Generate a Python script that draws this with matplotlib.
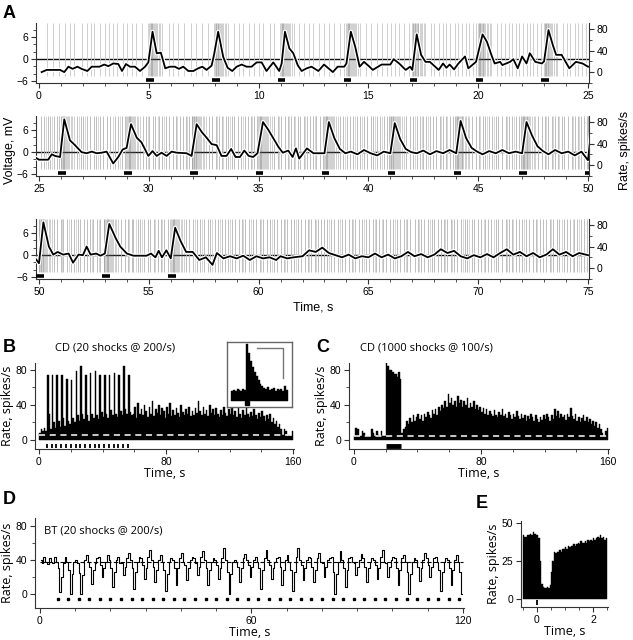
import numpy as np
import matplotlib
matplotlib.use("Agg")
import matplotlib.pyplot as plt
import matplotlib.patheffects as pe
from matplotlib.ticker import MultipleLocator

plt.rcParams['font.family'] = ['Liberation Sans', 'DejaVu Sans']

# ---------------- DATA ----------------
# Panel A: stimulus times (s)
stim_A = [5, 8, 11, 14, 17, 20, 23, 26, 29, 32, 35, 38, 41, 44, 47, 50, 53, 56]
# background spike times (s)
spikes_row1 = [0.35, 0.62, 0.9, 1.18, 1.42, 1.6, 1.95, 2.2, 2.38, 2.52, 2.78, 3.02, 3.2, 3.36, 3.55, 3.82,
               4.0, 4.25, 4.42, 4.7, 5.9, 6.1, 6.35, 6.6, 6.92, 7.15, 7.4, 7.7, 8.9, 9.12, 9.3, 9.55, 9.78,
               10.0, 10.22, 10.5, 10.72, 11.85, 12.05, 12.3, 12.48, 12.75, 12.98, 13.2, 13.45, 13.7, 13.88,
               14.9, 15.1, 15.4, 15.62, 15.85, 16.05, 16.2, 16.4, 16.62, 16.85, 17.85, 18.0, 18.22, 18.4,
               18.55, 18.72, 18.95, 19.1, 19.28, 19.45, 19.6, 19.78, 19.92, 20.85, 21.02, 21.2, 21.38,
               21.52, 21.7, 21.85, 22.05, 22.2, 22.38, 22.5, 22.68, 22.85, 23.85, 24.05, 24.2, 24.4,
               24.55, 24.72, 24.9]
spikes_row2 = [25.08, 25.22, 25.4, 25.5, 25.68, 25.8, 25.93, 26.72, 26.9, 27.02, 27.2, 27.33, 27.5, 27.6,
               27.78, 27.92, 28.1, 28.22, 28.45, 28.6, 28.78, 28.9, 29.72, 29.88, 30.02, 30.18, 30.3,
               30.48, 30.62, 30.8, 30.92, 31.1, 31.22, 31.4, 31.55, 31.68, 31.82, 31.95, 32.72, 32.88,
               33.05, 33.18, 33.32, 33.5, 33.62, 33.78, 33.9, 34.08, 34.2, 34.38, 34.5, 34.65, 34.8,
               34.92, 35.72, 35.9, 36.02, 36.2, 36.32, 36.48, 36.6, 36.78, 36.9, 37.05, 37.2, 37.35,
               37.48, 37.62, 37.8, 37.92, 38.72, 38.85, 39.02, 39.18, 39.3, 39.5, 39.62, 39.8, 39.92,
               40.1, 40.22, 40.4, 40.55, 40.7, 40.85, 40.95, 41.72, 41.9, 42.05, 42.2, 42.35, 42.5,
               42.62, 42.8, 42.95, 43.08, 43.25, 43.4, 43.52, 43.7, 43.85, 43.95, 44.72, 44.88, 45.05,
               45.2, 45.32, 45.5, 45.65, 45.8, 45.92, 46.1, 46.25, 46.4, 46.55, 46.7, 46.85, 46.95,
               47.72, 47.9, 48.05, 48.18, 48.35, 48.5, 48.65, 48.8, 48.92, 49.1, 49.25, 49.4, 49.55,
               49.7, 49.82, 49.95]
spikes_row3 = [50.7, 50.82, 51.0, 51.1, 51.28, 51.45, 51.6, 51.78, 51.85, 52.05, 52.2, 52.3, 52.48, 52.66,
               52.8, 52.95, 53.75, 53.9, 54.05, 54.22, 54.3, 54.5, 54.62, 54.8, 54.95, 55.05, 55.25,
               55.4, 55.55, 55.7, 55.88, 56.7, 56.85, 57.0, 57.2, 57.35, 57.5, 57.68, 57.8, 58.0, 58.15,
               58.32, 58.45, 58.6, 58.8, 58.92, 59.1, 59.25, 59.4, 59.55, 59.75, 59.88, 60.05, 60.2,
               60.36, 60.5, 60.7, 60.82, 61.0, 61.15, 61.3, 61.48, 61.6, 61.8, 61.95, 62.1, 62.25, 62.4,
               62.55, 62.7, 62.85, 63.0, 63.12, 63.3, 63.45, 63.6, 63.8, 63.92, 64.1, 64.25, 64.4, 64.58,
               64.7, 64.9, 65.05, 65.2, 65.35, 65.5, 65.68, 65.8, 66.0, 66.12, 66.3, 66.45, 66.6, 66.78,
               66.9, 67.1, 67.25, 67.4, 67.55, 67.7, 67.88, 68.0, 68.15, 68.3, 68.42, 68.6, 68.75, 68.9,
               69.05, 69.2, 69.38, 69.5, 69.7, 69.82, 70.0, 70.15, 70.32, 70.45, 70.6, 70.8, 70.92, 71.1,
               71.25, 71.4, 71.55, 71.7, 71.85, 72.0, 72.18, 72.3, 72.5, 72.62, 72.8, 72.95, 73.1, 73.25,
               73.4, 73.58, 73.7, 73.9, 74.05, 74.2, 74.35, 74.5, 74.68, 74.8, 74.95]
# extra spikes filling the denser second and third rows
spikes_extra = [25.3, 25.6, 26.8, 27.1, 27.68, 28.35, 28.7, 29.95, 30.4, 30.7, 31.3, 31.75, 33.1, 33.4,
                33.7, 34.28, 34.72, 35.95, 36.4, 36.65, 37.1, 37.55, 38.95, 39.4, 39.7, 40.3, 40.62,
                42.1, 42.42, 42.7, 43.3, 43.6, 45.1, 45.4, 45.72, 46.3, 46.62, 48.1, 48.42, 48.7, 49.3,
                49.6, 51.05, 51.35, 51.7, 52.4, 52.72, 54.1, 54.42, 54.7, 55.3, 55.62, 57.1, 57.42,
                57.9, 58.25, 58.7, 59.3, 59.65, 60.1, 60.6, 61.2, 61.7, 62.3, 62.62, 63.2, 63.7, 64.3,
                64.8, 65.3, 65.6, 66.2, 66.7, 67.3, 67.8, 68.5, 68.82, 69.3, 69.6, 70.25, 70.7, 71.3,
                71.6, 72.1, 72.7, 73.3, 73.8, 74.3, 74.6]
# spike times in the evoked bursts, relative to each stimulus (s)
burst_offsets = [-0.02, 0.02, 0.05, 0.08, 0.1, 0.13, 0.16, 0.2, 0.24, 0.28, 0.33, 0.38, 0.45, 0.52, 0.6]
# firing rate trace (time s, rate spikes/s)
rate_t = [0.12, 0.35, 0.96, 1.15, 1.34, 1.53, 1.75, 1.94, 2.2, 2.4, 2.75, 2.97, 3.16, 3.38, 3.61, 3.78, 3.96,
          4.14, 4.37, 4.6, 4.83, 4.98, 5.17, 5.36, 5.55, 5.75, 5.96, 6.19, 6.37, 6.57, 6.8, 7.03, 7.25, 7.44,
          7.63, 7.86, 7.97, 8.16, 8.39, 8.59, 8.8, 9.0, 9.23, 9.45, 9.68, 9.91, 10.14, 10.36, 10.67, 10.94,
          11.05, 11.2, 11.4, 11.58, 11.78, 11.96, 12.19, 12.41, 12.72, 12.98, 13.38, 13.6, 13.9, 14.0, 14.2,
          14.4, 14.6, 14.8, 15.05, 15.2, 15.6, 16.0, 16.15, 16.4, 16.7, 16.9, 17.0, 17.2, 17.4, 17.6, 17.8,
          18.2, 18.4, 18.55, 18.7, 18.9, 19.1, 19.4, 19.55, 19.9, 20.2, 20.4, 20.6, 20.75, 21.0, 21.1, 21.45,
          21.6, 21.8, 22.0, 22.2, 22.35, 22.6, 22.9, 23.0, 23.2, 23.4, 23.55, 23.8, 24.15, 24.45, 24.75,
          25.0, 25.42, 25.58, 25.73, 25.96, 26.15, 26.41, 26.64, 26.94, 27.17, 27.4, 27.63, 27.85, 28.08,
          28.38, 28.61, 28.81, 28.99, 29.19, 29.45, 29.67, 29.98, 30.17, 30.36, 30.58, 30.81, 31.04, 31.27,
          31.72, 31.95, 32.18, 32.4, 32.63, 32.86, 33.09, 33.31, 33.54, 33.75, 33.95, 34.15, 34.35, 34.55,
          34.75, 34.95, 35.2, 35.45, 35.67, 35.9, 36.1, 36.35, 36.55, 36.7, 36.85, 37.2, 37.5, 37.8, 38.0,
          38.2, 38.45, 38.7, 38.95, 39.2, 39.5, 39.8, 40.1, 40.4, 40.7, 41.0, 41.2, 41.45, 41.7, 41.95,
          42.2, 42.5, 42.8, 43.1, 43.4, 43.7, 44.0, 44.2, 44.45, 44.7, 44.95, 45.2, 45.5, 45.8, 46.1, 46.4,
          46.7, 47.0, 47.2, 47.45, 47.7, 47.95, 48.2, 48.5, 48.8, 49.1, 49.4, 49.7, 50.0,
          50.2, 50.45, 50.65, 50.85, 51.1, 51.35, 51.55, 51.8, 52.0, 52.17, 52.35, 52.6, 52.8, 53.0, 53.2,
          53.5, 53.7, 54.0, 54.3, 54.6, 54.9, 55.1, 55.3, 55.45, 55.6, 55.8, 56.0, 56.2, 56.45, 56.7, 57.0,
          57.3, 57.6, 57.9, 58.1, 58.4, 58.7, 59.0, 59.3, 59.6, 59.9, 60.2, 60.5, 60.8, 61.0, 61.3, 61.6,
          62.0, 62.3, 62.6, 62.9, 63.2, 63.5, 63.8, 64.1, 64.4, 64.7, 65.0, 65.3, 65.6, 65.9, 66.2, 66.5,
          66.8, 67.1, 67.4, 67.7, 68.0, 68.3, 68.6, 68.9, 69.2, 69.5, 69.8, 70.1, 70.4, 70.7, 71.0, 71.3,
          71.6, 71.9, 72.2, 72.5, 72.8, 73.1, 73.4, 73.7, 74.0, 74.3, 74.6, 75.0]
rate_v = [0, 4, 4, 0, 10, 6, 10, 6, 2, 10, 10, 14, 11, 16, 15, 2, 15,
          10, 10, 2, 10, 18, 75, 35, 36, 7, 10, 10, 6, 10, 2, 2, 7, 10,
          4, 12, 32, 75, 28, 8, 2, 10, 14, 10, 10, 18, 18, 2, 18, 2,
          16, 75, 44, 35, 13, 2, 7, 10, 2, 14, 0, 10, 10, 16, 75,
          47, 10, 19, 10, 4, 14, 14, 24, 16, 4, 10, 4, 70, 32, 19, 19,
          4, 16, 8, 14, 5, 16, 29, 7, 19, 70, 56, 32, 16, 19, 13, 19,
          24, 7, 29, 16, 35, 19, 16, 20, 78, 50, 32, 32, 7, 19, 16,
          10, 10, 20, 17, 15, 85, 46, 37, 24, 22, 25, 22, 23, 25,
          3, 15, 29, 32, 76, 51, 42, 17, 26, 17, 23, 17, 25, 23,
          22, 17, 76, 62, 51, 39, 37, 17, 17, 30, 15, 15, 27, 17,
          15, 22, 80, 65, 50, 34, 23, 27, 15, 31, 12, 31, 22, 22, 22,
          80, 50, 30, 22, 25, 20, 28, 22, 18, 25, 22, 78, 48, 30, 24,
          22, 27, 20, 26, 22, 28, 22, 82, 50, 32, 25, 20, 26, 22, 28, 22,
          25, 22, 80, 55, 35, 26, 20, 28, 22, 25, 18, 25, 9,
          85, 40, 25, 30, 25, 27, 10, 25, 24, 40, 25, 27, 23, 27, 82,
          55, 40, 27, 23, 23, 23, 27, 20, 32, 20, 33, 18, 75, 50, 30, 30,
          15, 20, 6, 28, 18, 22, 18, 23, 15, 22, 18, 20, 15, 22, 18, 20,
          22, 33, 30, 38, 28, 24, 20, 25, 18, 22, 20, 27, 20, 25, 18, 22,
          30, 22, 26, 20, 25, 35, 28, 32, 22, 18, 24, 20, 26, 20, 28, 35,
          25, 30, 22, 28, 20, 25, 35, 25, 30, 22, 28, 24]

# Panel B: CD, 20 shocks @ 200/s, 1-s bins 0..159
stim_B = [5, 8, 11, 14, 17, 20, 23, 26, 29, 32, 35, 38, 41, 44, 47, 50, 53, 56]
rate_B = [8, 12, 10, 14, 10, 74, 30, 12, 74, 20, 14, 74, 22, 15, 74, 25, 16, 70, 22, 18,
          69, 25, 20, 79, 28, 22, 85, 30, 24, 74, 28, 22, 76, 30, 25, 79, 28, 24, 74, 32,
          26, 74, 30, 25, 74, 34, 28, 76, 30, 26, 74, 33, 28, 85, 35, 30, 74, 32, 28, 30,
          38, 25, 42, 30, 35, 28, 40, 33, 26, 38, 30, 44, 27, 35, 31, 40, 28, 36, 33, 25,
          38, 30, 42, 27, 34, 29, 37, 31, 26, 40, 32, 28, 35, 30, 38, 27, 33, 29, 36, 31,
          45, 33, 28, 38, 30, 34, 27, 40, 31, 35, 28, 37, 30, 26, 34, 29, 38, 31, 27, 35,
          30, 40, 28, 33, 26, 36, 30, 25, 34, 28, 38, 30, 26, 32, 27, 35, 29, 24, 31, 26,
          33, 27, 22, 28, 24, 30, 20, 25, 18, 22, 15, 18, 12, 6, 12, 10, 4, 6, 4, 10]
# inset: evoked response histogram (relative heights)
inset_hist = [10, 11, 10, 12, 11, 10, 12, 11, 57, 48, 40, 34, 29, 25, 21, 17, 15, 13, 12, 14,
              11, 12, 13, 10, 12, 11, 12, 10, 15, 11]
inset_stim_bin = 8

# Panel C: CD, 1000 shocks @ 100/s, 1-s bins 0..159
stim_C = (20, 30)
rate_C = [4, 14, 12, 4, 4, 10, 8, 4, 4, 4, 4, 12, 8, 4, 10, 6, 4, 10, 4, 4,
          88, 85, 80, 80, 78, 75, 75, 72, 78, 70, 8, 12, 15, 22, 18, 25, 20, 28, 22, 26,
          30, 24, 28, 22, 30, 26, 32, 28, 25, 34, 30, 35, 28, 38, 33, 40, 36, 44, 38, 52,
          42, 48, 40, 45, 38, 50, 42, 46, 38, 44, 40, 48, 36, 42, 38, 44, 35, 40, 34, 38,
          32, 36, 30, 35, 28, 33, 30, 27, 34, 29, 26, 32, 28, 35, 27, 30, 25, 32, 28, 24,
          30, 26, 33, 27, 24, 30, 25, 28, 22, 27, 24, 30, 26, 22, 28, 24, 20, 26, 23, 28,
          24, 30, 26, 22, 28, 24, 35, 27, 33, 25, 30, 26, 28, 23, 30, 26, 36, 27, 24, 30,
          22, 26, 20, 25, 28, 22, 26, 20, 24, 18, 22, 16, 20, 14, 18, 12, 8, 4, 10, 14]

# Panel D: BT, 20 shocks @ 200/s, 0.5-s bins 0..119.5
stim_D = [5, 8, 11, 14, 17, 20, 23, 26, 29, 32, 35, 38, 41, 44, 47, 50, 53, 56, 59, 62,
          65, 68, 71, 74, 77, 80, 83, 86, 89, 92, 95, 98, 101, 104, 107, 110, 113, 116, 119]
bin_D = 0.5
rate_D = [40, 36, 44, 38, 35, 42, 38, 36, 44, 38,
          30, 2, 20, 36, 44, 38,  28, 0, 24, 38, 40, 36,  25, 0, 22, 40, 46, 38,
          32, 12, 28, 36, 42, 44,  34, 20, 30, 38, 46, 40,  30, 8, 26, 40, 44, 36,
          36, 22, 32, 42, 48, 40,  30, 6, 26, 38, 44, 42,  34, 18, 30, 44, 52, 40,
          32, 14, 28, 40, 46, 38,  28, 4, 24, 38, 42, 40,  30, 10, 30, 42, 48, 38,
          34, 16, 30, 40, 44, 42,  36, 22, 32, 44, 50, 40,  30, 10, 28, 38, 42, 40,
          34, 18, 30, 42, 54, 40,  26, 0, 24, 38, 40, 38,  32, 14, 30, 42, 47, 40,
          34, 20, 32, 40, 44, 38,  30, 6, 28, 42, 52, 40,  34, 18, 30, 38, 42, 44,
          32, 10, 28, 40, 46, 38,  28, 4, 26, 44, 54, 40,  34, 16, 30, 40, 44, 42,
          32, 14, 28, 42, 48, 38,  36, 20, 32, 40, 42, 44,  26, 0, 24, 38, 50, 40,
          30, 8, 28, 42, 44, 38,  36, 22, 32, 40, 47, 42,  32, 14, 30, 38, 42, 40,
          34, 18, 30, 44, 52, 38,  36, 20, 32, 40, 44, 42,  30, 10, 28, 42, 46, 38,
          26, 0, 24, 38, 42, 40,  32, 15, 30, 40, 48, 42,  34, 20, 32, 42, 44, 38,
          28, 4, 26, 38, 42, 40,  30, 10, 28, 40, 46, 38,  26, 0]
mean_D = 38

# Panel E: average response, 50-ms bins from -0.5 s to 2.5 s
bin_E = 0.05
start_E = -0.5
rate_E = [42, 41, 41, 42, 42, 43, 42, 44, 43, 42,
          42, 40, 25, 10, 8, 7, 7, 8, 7, 9,
          18, 25, 31, 30, 31, 31, 32, 31, 33, 33,
          34, 33, 35, 34, 35, 35, 36, 35, 36, 37,
          36, 38, 37, 37, 38, 37, 39, 38, 39, 38,
          40, 39, 40, 41, 40, 42, 40, 41, 39, 40]

# ---------------- FIGURE ----------------
W, H = 633, 640
fig = plt.figure(figsize=(W / 100, H / 100), dpi=100)


def add_ax(l, t, r, b):
    return fig.add_axes([l / W, 1 - b / H, (r - l) / W, (b - t) / H])


TICK = 7.5
LAB_FONT = ['Open Sans', 'DejaVu Sans']


def style(ax, left=True, bottom=True, right=False):
    for s in ['top', 'right', 'left', 'bottom']:
        ax.spines[s].set_visible(False)
    if left:
        ax.spines['left'].set_visible(True)
    if bottom:
        ax.spines['bottom'].set_visible(True)
    if right:
        ax.spines['right'].set_visible(True)
    for s in ax.spines.values():
        s.set_linewidth(0.8)
        s.set_color('#333333')
    ax.tick_params(which='major', direction='out', length=3.5, width=0.8, labelsize=TICK, pad=2,
                   color='#333333')
    ax.tick_params(which='minor', direction='out', length=2, width=0.6, color='#333333')


# ---- Panel A ----
rows = [(0, 23, spikes_row1, '#c8c8c8'), (25, 116, spikes_row2, '#b4b4b4'), (50, 219, spikes_row3, '#b4b4b4')]
burst_times = [s + o for s in stim_A for o in burst_offsets]
for start, top, spk, col in rows:
    ax = add_ax(35.7, top, 589.1, top + 60)
    ax.set_xlim(start - 0.15, start + 25.05)
    ax.set_ylim(-6.5, 9.8)
    ax.axhline(0, color='#111111', lw=1.0, zorder=1)
    ax.vlines(spk, -4.5, 9.8, color=col, lw=0.6, zorder=2)
    if start > 0:
        ex = [e for e in spikes_extra if start <= e < start + 25]
        ax.vlines(ex, -4.5, 9.8, color='#c8c8c8', lw=0.5, zorder=2)
    bt = [b for b in burst_times if start - 1 < b < start + 26]
    ax.vlines(bt, -4.5, 9.8, color='#6e6e6e', lw=0.5, alpha=0.45, zorder=2)
    st = [s for s in stim_A if start - 1 < s < start + 26]
    ax.hlines([-5.8] * len(st), np.array(st) - 0.12, np.array(st) + 0.22, color='k', lw=2.6, zorder=3)
    ax.set_yticks([-6, 0, 6])
    ax.yaxis.set_minor_locator(MultipleLocator(2))
    ax.set_xticks(np.arange(start, start + 26, 5))
    ax.xaxis.set_minor_locator(MultipleLocator(1))
    style(ax)
    tw = ax.twinx()
    tw.set_ylim(-20.3, 91.2)
    tw.set_xlim(start - 0.15, start + 25.05)
    tw.plot(rate_t, rate_v, color='k', lw=1.3, zorder=5,
            path_effects=[pe.Stroke(linewidth=3.0, foreground='white'), pe.Normal()])
    tw.set_yticks([0, 40, 80])
    tw.yaxis.set_minor_locator(MultipleLocator(20))
    style(tw, left=False, bottom=False, right=True)

fig.text(3 / W, 1 - 14 / H, 'A', fontsize=13, fontweight='bold', ha='left', va='center')
fig.text(10 / W, 1 - 150 / H, 'Voltage, mV', rotation=90, fontsize=9, ha='center', va='center')
fig.text(625 / W, 1 - 150 / H, 'Rate, spikes/s', rotation=90, fontsize=9, ha='center', va='center')
fig.text(313 / W, 1 - 307 / H, 'Time, s', fontsize=9, ha='center', va='center')

# ---- Panel B ----
axB = add_ax(35, 363, 294, 449)
axB.set_xlim(-2.5, 160.5)
axB.set_ylim(-10.3, 88)
axB.bar(np.arange(len(rate_B)), rate_B, width=1.0, align='edge', color='k', edgecolor='k', lw=0.3)
axB.hlines(5.7, 0, 160, colors='white', linestyles=(0, (4, 3)), lw=1.1)
axB.vlines(stim_B, -9.0, -4.8, color='k', lw=1.3)
axB.set_xticks([0, 80, 160])
axB.xaxis.set_minor_locator(MultipleLocator(20))
axB.set_yticks([0, 40, 80])
axB.yaxis.set_minor_locator(MultipleLocator(20))
style(axB)
axB.set_xlabel('Time, s', fontsize=9, family=LAB_FONT, labelpad=0)
axB.set_ylabel('Rate, spikes/s', fontsize=9, family=LAB_FONT, labelpad=1)
fig.text(3 / W, 1 - 348 / H, 'B', fontsize=13, fontweight='bold', ha='left', va='center')
fig.text(55 / W, 1 - 348 / H, 'CD (20 shocks @ 200/s)', fontsize=8, family=LAB_FONT, ha='left', va='center')

# inset
axI = add_ax(227, 342, 292, 407)
axI.set_xlim(-2.1, 32.1)
axI.set_ylim(-6.3, 58.7)
axI.bar(np.arange(len(inset_hist)), inset_hist, width=1.0, align='edge', color='k', edgecolor='k', lw=0.3)
axI.plot([inset_stim_bin + 0.5], [-2.6], 's', ms=2.6, color='k')
axI.plot([0.46, 0.86, 0.86], [0.908, 0.908, 0.446], color='#777777', lw=1.0, transform=axI.transAxes)
axI.set_xticks([])
axI.set_yticks([])
for s in axI.spines.values():
    s.set_color('#666666')
    s.set_linewidth(1.0)

# ---- Panel C ----
axC = add_ax(349, 363, 609, 449)
axC.set_xlim(-3, 160.5)
axC.set_ylim(-10.3, 88)
axC.bar(np.arange(len(rate_C)), rate_C, width=1.0, align='edge', color='k', edgecolor='k', lw=0.3)
axC.hlines(4.6, 0, 160, colors='white', linestyles=(0, (4, 3)), lw=1.1)
axC.hlines(-7.0, stim_C[0], stim_C[1], color='k', lw=3.5)
axC.set_xticks([0, 80, 160])
axC.xaxis.set_minor_locator(MultipleLocator(20))
axC.set_yticks([0, 40, 80])
axC.yaxis.set_minor_locator(MultipleLocator(20))
style(axC)
axC.set_xlabel('Time, s', fontsize=9, family=LAB_FONT, labelpad=0)
axC.set_ylabel('Rate, spikes/s', fontsize=9, family=LAB_FONT, labelpad=1)
fig.text(316 / W, 1 - 348 / H, 'C', fontsize=13, fontweight='bold', ha='left', va='center')
fig.text(360 / W, 1 - 348 / H, 'CD (1000 shocks @ 100/s)', fontsize=8, family=LAB_FONT, ha='left', va='center')

# ---- Panel D ----
axD = add_ax(35, 518, 464, 608)
axD.set_xlim(-1.4, 120.3)
axD.set_ylim(-16.5, 89.4)
axD.step(np.arange(len(rate_D)) * bin_D + bin_D / 2, rate_D, where='mid', color='k', lw=0.8)
axD.hlines(mean_D, 0, 120, colors='k', linestyles=(0, (4, 2)), lw=0.8)
axD.plot(stim_D, [-6.3] * len(stim_D), 's', ms=2.0, color='k')
axD.set_xticks([0, 60, 120])
axD.xaxis.set_minor_locator(MultipleLocator(10))
axD.set_yticks([0, 40, 80])
axD.yaxis.set_minor_locator(MultipleLocator(20))
style(axD)
axD.set_xlabel('Time, s', fontsize=9, family=LAB_FONT, labelpad=0)
axD.set_ylabel('Rate, spikes/s', fontsize=9, family=LAB_FONT, labelpad=1)
fig.text(3 / W, 1 - 500 / H, 'D', fontsize=13, fontweight='bold', ha='left', va='center')
fig.text(44 / W, 1 - 531 / H, 'BT (20 shocks @ 200/s)', fontsize=8, family=LAB_FONT, ha='left', va='center')

# ---- Panel E ----
axE = add_ax(521, 520.7, 608.3, 607)
axE.set_xlim(-0.57, 2.55)
axE.set_ylim(-5.3, 51.5)
axE.bar(start_E + np.arange(len(rate_E)) * bin_E, rate_E, width=bin_E, align='edge', color='k',
        edgecolor='k', lw=0.3)
axE.vlines([0], -4.3, -1.0, color='k', lw=1.3)
axE.set_xticks([0, 2])
axE.xaxis.set_minor_locator(MultipleLocator(0.5))
axE.set_yticks([0, 25, 50])
style(axE)
axE.set_xlabel('Time, s', fontsize=9, family=LAB_FONT, labelpad=0)
axE.set_ylabel('Rate, spikes/s', fontsize=9, family=LAB_FONT, labelpad=1)
fig.text(476 / W, 1 - 503 / H, 'E', fontsize=13, fontweight='bold', ha='left', va='center')

fig.savefig('out.png', dpi=100)
